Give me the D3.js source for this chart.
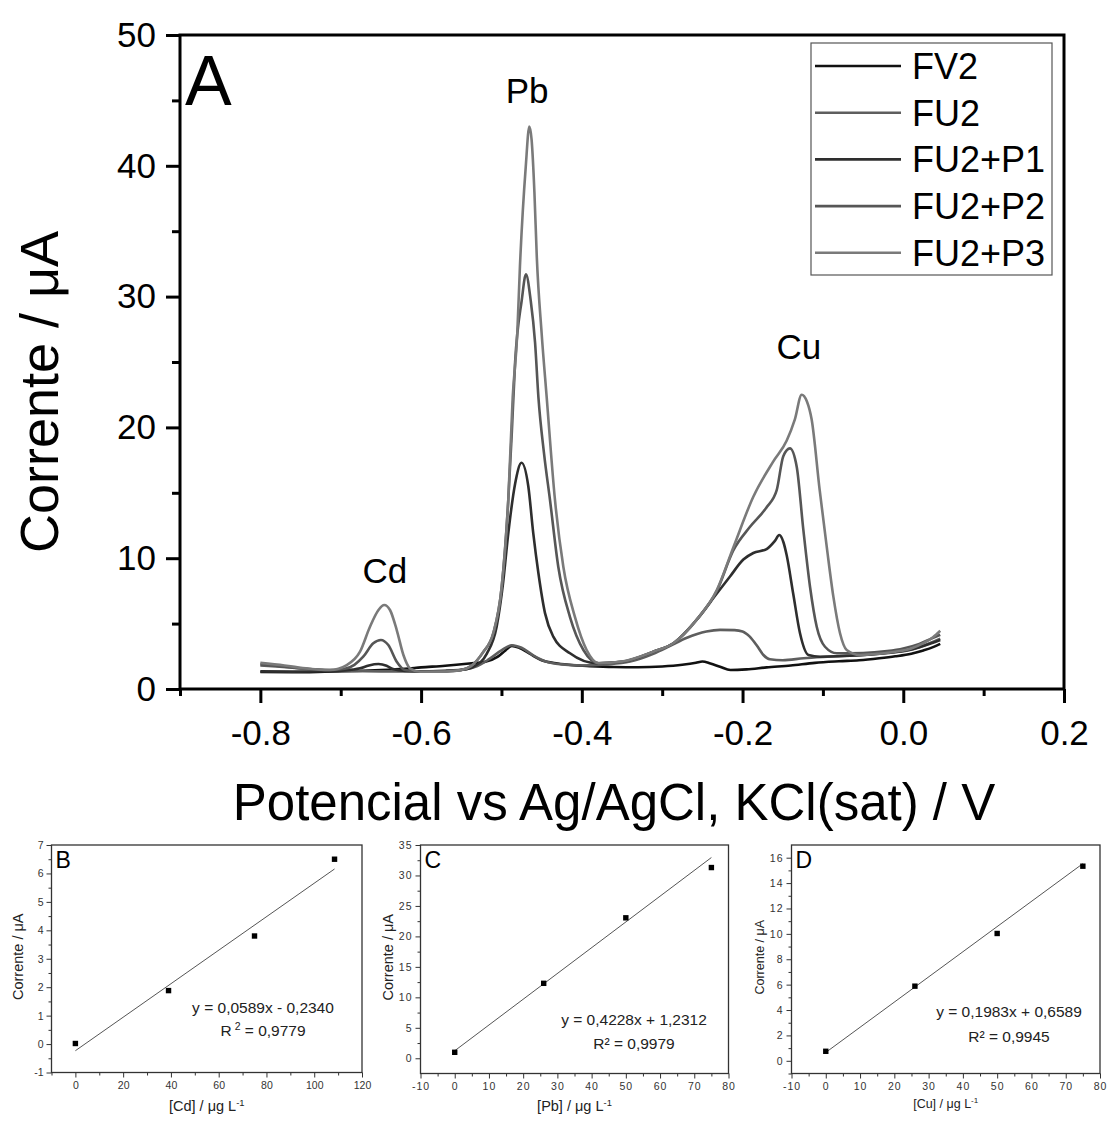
<!DOCTYPE html>
<html>
<head>
<meta charset="utf-8">
<script src="https://cdn.jsdelivr.net/npm/d3@7"></script>
<style>
  body { margin: 0; background: #fff; }
  svg { display: block; }
</style>
</head>
<body>
<svg id="chart" width="1107" height="1124"></svg>
<script>
// ---- data (potential V, current uA) ----
var seriesNames = ["FV2", "FU2", "FU2+P1", "FU2+P2", "FU2+P3"];

var fv2 = [
  [-0.800,1.30],[-0.760,1.28],[-0.720,1.32],[-0.680,1.38],[-0.650,1.45],[-0.620,1.55],
  [-0.600,1.65],[-0.570,1.78],[-0.540,1.95],[-0.520,2.08],[-0.505,2.45],[-0.495,2.95],
  [-0.487,3.30],[-0.478,3.15],[-0.465,2.70],[-0.450,2.20],[-0.430,1.95],[-0.410,1.82],
  [-0.390,1.75],[-0.360,1.68],[-0.330,1.66],[-0.300,1.72],[-0.275,1.85],[-0.258,2.00],
  [-0.250,2.10],[-0.240,1.95],[-0.228,1.70],[-0.215,1.45],[-0.195,1.50],[-0.170,1.65],
  [-0.140,1.80],[-0.110,2.00],[-0.080,2.12],[-0.055,2.20],[-0.030,2.35],[-0.010,2.50],
  [0.010,2.70],[0.025,2.95],[0.037,3.20],[0.046,3.45]
];

var fu2 = [
  [-0.800,1.80],[-0.780,1.72],[-0.750,1.58],[-0.720,1.45],[-0.690,1.38],[-0.650,1.35],
  [-0.610,1.35],[-0.570,1.40],[-0.545,1.50],[-0.530,1.75],[-0.515,2.30],[-0.500,2.95],
  [-0.487,3.35],[-0.475,3.15],[-0.460,2.55],[-0.445,2.10],[-0.425,1.88],[-0.400,1.80],
  [-0.370,1.88],[-0.340,2.10],[-0.311,2.70],[-0.290,3.30],[-0.270,3.90],[-0.245,4.40],
  [-0.228,4.52],[-0.210,4.50],[-0.200,4.40],[-0.191,4.00],[-0.182,3.30],[-0.174,2.60],
  [-0.166,2.27],[-0.150,2.20],[-0.124,2.35],[-0.100,2.45],[-0.070,2.55],[-0.040,2.65],
  [-0.015,2.80],[0.005,2.95],[0.020,3.20],[0.035,3.55],[0.046,3.85]
];

var fu2p1 = [
  [-0.800,1.35],[-0.760,1.33],[-0.720,1.36],[-0.695,1.42],[-0.676,1.58],[-0.665,1.80],
  [-0.653,1.91],[-0.643,1.78],[-0.635,1.52],[-0.620,1.38],[-0.600,1.35],[-0.570,1.38],
  [-0.550,1.45],[-0.535,1.70],[-0.518,2.73],[-0.506,4.76],[-0.498,8.10],[-0.4915,11.90],
  [-0.483,15.70],[-0.475,17.30],[-0.4666,15.50],[-0.4604,11.90],[-0.454,8.85],[-0.4458,5.80],
  [-0.4355,4.00],[-0.4147,2.73],[-0.3815,1.97],[-0.350,2.08],[-0.311,2.85],[-0.286,3.50],
  [-0.257,5.30],[-0.232,7.30],[-0.2156,8.60],[-0.199,9.90],[-0.1866,10.40],[-0.170,10.70],
  [-0.160,11.30],[-0.1543,11.77],[-0.149,11.20],[-0.145,10.20],[-0.137,7.30],[-0.1285,4.26],
  [-0.118,2.60],[-0.1036,2.47],[-0.080,2.50],[-0.050,2.60],[-0.020,2.75],[0.000,2.90],
  [0.020,3.20],[0.035,3.50],[0.046,3.75]
];

var fu2p2 = [
  [-0.800,1.90],[-0.775,1.75],[-0.745,1.55],[-0.715,1.45],[-0.695,1.55],[-0.683,1.85],
  [-0.672,2.47],[-0.6595,3.49],[-0.650,3.75],[-0.6408,3.36],[-0.6303,2.09],[-0.620,1.45],
  [-0.600,1.32],[-0.570,1.35],[-0.550,1.45],[-0.538,1.75],[-0.523,2.80],[-0.510,4.30],
  [-0.4997,7.80],[-0.4915,14.45],[-0.4872,19.50],[-0.483,25.00],[-0.4748,29.70],[-0.4695,31.70],
  [-0.4636,29.70],[-0.4582,26.50],[-0.454,22.30],[-0.447,18.00],[-0.4396,14.45],[-0.4293,9.35],
  [-0.4147,5.50],[-0.398,2.98],[-0.379,1.97],[-0.350,2.08],[-0.311,2.85],[-0.286,3.50],
  [-0.257,5.30],[-0.232,7.50],[-0.2115,10.60],[-0.1907,12.40],[-0.170,13.90],[-0.1575,15.20],
  [-0.1493,17.80],[-0.141,18.40],[-0.1326,17.00],[-0.1244,12.20],[-0.116,7.80],[-0.1077,4.76],
  [-0.0974,3.23],[-0.0828,2.73],[-0.050,2.75],[-0.020,2.90],[0.000,3.10],[0.020,3.45],
  [0.035,3.85],[0.046,4.15]
];

var fu2p3 = [
  [-0.800,2.00],[-0.770,1.80],[-0.740,1.55],[-0.7134,1.45],[-0.6925,1.83],[-0.676,2.85],
  [-0.6636,4.76],[-0.653,6.04],[-0.6458,6.42],[-0.6387,6.04],[-0.6303,4.51],[-0.622,2.60],
  [-0.6138,1.58],[-0.6013,1.32],[-0.570,1.33],[-0.550,1.45],[-0.538,1.75],[-0.523,2.80],
  [-0.510,4.30],[-0.4997,7.80],[-0.4915,14.45],[-0.486,22.30],[-0.4803,27.20],[-0.477,32.30],
  [-0.4698,39.90],[-0.4653,43.00],[-0.4625,42.00],[-0.459,38.00],[-0.456,33.00],[-0.450,27.20],
  [-0.4437,22.30],[-0.4334,14.45],[-0.423,9.35],[-0.4085,5.50],[-0.394,2.98],[-0.379,1.97],
  [-0.350,2.10],[-0.311,2.85],[-0.286,3.50],[-0.257,5.30],[-0.232,7.57],[-0.211,10.90],
  [-0.1866,14.70],[-0.1617,17.40],[-0.145,19.00],[-0.135,20.60],[-0.1264,22.50],[-0.120,22.00],
  [-0.114,20.60],[-0.104,15.20],[-0.0953,10.90],[-0.087,7.06],[-0.0787,4.26],[-0.0704,2.98],
  [-0.054,2.60],[-0.030,2.70],[-0.010,2.85],[0.010,3.10],[0.025,3.50],[0.037,3.95],[0.046,4.45]
];

var seriesData = [fv2, fu2, fu2p1, fu2p2, fu2p3];

// main axis ticks
var xMajor = [-0.8, -0.6, -0.4, -0.2, 0.0, 0.2];
var xMinor = [-0.9, -0.7, -0.5, -0.3, -0.1, 0.1];
var yMajor = [0, 10, 20, 30, 40, 50];
var yMinor = [5, 15, 25, 35, 45];

// peak labels
var peakNames = ["Cd", "Pb", "Cu"];
var peakAt = [[-0.645, 8.1], [-0.468, 44.8], [-0.13, 25.2]];

// calibration data (B, C, D)
var cdConc = [0, 39, 75, 108.5];
var cdCurrent = [0.02, 1.88, 3.8, 6.5];
var pbConc = [0, 26, 50, 75];
var pbCurrent = [0.98, 12.3, 23.05, 31.3];
var cuConc = [0, 26, 50, 75];
var cuCurrent = [0.75, 5.88, 10.03, 15.33];
var fitSlope = [0.0589, 0.4228, 0.1983];
var fitIntercept = [-0.2340, 1.2312, 0.6589];
var fitR2 = ["0,9779", "0,9979", "0,9945"];

// ---- drawing ----
var FONT = '"Liberation Sans", Arial, Helvetica, sans-serif';
var seriesColors = ["#111111", "#5e5e5e", "#2e2e2e", "#565656", "#7a7a7a"];

var svg = d3.select("#chart").attr("font-family", FONT);
svg.append("rect").attr("width", 1107).attr("height", 1124).attr("fill", "#fff");

var main = { left: 180, right: 1064, top: 35, bottom: 689 };

var x = d3.scaleLinear().domain([-0.9, 0.2]).range([main.left, main.right]);
var y = d3.scaleLinear().domain([0, 50]).range([main.bottom, main.top]);

var intFmt = function(d) { return d3.format("d")(d).replace("\u2212", "-"); };

function styleAxis(g, size, width, color) {
  g.select(".domain").remove();
  g.selectAll(".tick line").attr("stroke", color).attr("stroke-width", width);
  g.selectAll(".tick text")
    .attr("font-size", size)
    .attr("font-family", FONT)
    .attr("fill", color);
}

// curves
var line = d3.line()
  .x(function(d) { return x(d[0]); })
  .y(function(d) { return y(d[1]); })
  .curve(d3.curveMonotoneX);

seriesData.forEach(function(s, i) {
  svg.append("path")
    .datum(s)
    .attr("d", line)
    .attr("fill", "none")
    .attr("stroke", seriesColors[i])
    .attr("stroke-width", 2.6)
    .attr("stroke-linejoin", "round");
});

// axes
svg.append("g")
  .attr("transform", "translate(0," + main.bottom + ")")
  .call(d3.axisBottom(x).tickValues(xMajor).tickSize(14).tickPadding(17)
    .tickFormat(function(d) { return d.toFixed(1); }))
  .call(styleAxis, "35px", 3, "#000");
svg.append("g")
  .attr("transform", "translate(0," + main.bottom + ")")
  .call(d3.axisBottom(x).tickValues(xMinor).tickSize(7).tickFormat(""))
  .call(styleAxis, "35px", 3, "#000");
svg.append("g")
  .attr("transform", "translate(" + main.left + ",0)")
  .call(d3.axisLeft(y).tickValues(yMajor).tickSize(14).tickPadding(10)
    .tickFormat(intFmt))
  .call(styleAxis, "35px", 3, "#000");
svg.append("g")
  .attr("transform", "translate(" + main.left + ",0)")
  .call(d3.axisLeft(y).tickValues(yMinor).tickSize(8).tickFormat(""))
  .call(styleAxis, "35px", 3, "#000");

svg.append("rect")
  .attr("x", main.left).attr("y", main.top)
  .attr("width", main.right - main.left).attr("height", main.bottom - main.top)
  .attr("fill", "none").attr("stroke", "#000").attr("stroke-width", 3);

// titles
svg.append("text")
  .attr("x", (main.left + main.right) / 2 - 8).attr("y", 820)
  .attr("text-anchor", "middle").attr("font-size", "51px")
  .text("Potencial vs Ag/AgCl, KCl(sat) / V");
svg.append("text")
  .attr("transform", "translate(58,392) rotate(-90)")
  .attr("text-anchor", "middle").attr("font-size", "54px")
  .text("Corrente / \u03bcA");

svg.append("text")
  .attr("x", main.left + 5).attr("y", 105)
  .attr("font-size", "70px").text("A");

peakNames.forEach(function(p, i) {
  svg.append("text")
    .attr("x", x(peakAt[i][0])).attr("y", y(peakAt[i][1]))
    .attr("text-anchor", "middle").attr("font-size", "35px")
    .text(p);
});

// legend
var legend = svg.append("g").attr("transform", "translate(811,43)");
legend.append("rect")
  .attr("width", 241).attr("height", 232)
  .attr("fill", "#fff").attr("stroke", "#555").attr("stroke-width", 1.2);
seriesNames.forEach(function(name, i) {
  var cy = 23 + i * 46.7;
  legend.append("line")
    .attr("x1", 4).attr("x2", 90).attr("y1", cy).attr("y2", cy)
    .attr("stroke", seriesColors[i]).attr("stroke-width", 2.6);
  legend.append("text")
    .attr("x", 101).attr("y", cy + 13)
    .attr("font-size", "36px").text(name);
});

// ---- calibration panels ----
var panels = [
  { letter: "B", box: { left: 51.5, right: 362, top: 845, bottom: 1072.5 },
    xDomain: [-10, 120], yDomain: [-1, 7],
    xMajor: d3.range(0, 121, 20), xMinor: d3.range(-10, 121, 20),
    yMajor: d3.range(-1, 7.01, 1), yMinor: d3.range(-0.5, 7, 1),
    conc: cdConc, current: cdCurrent, elem: "Cd",
    eq: "y = 0,0589x - 0,2340", eqX: 263, eqY: 1012.5, r2Y: 1036, r2Super: true,
    tickSpacing: 0, titleSize: "14.5px", xTitleY: 1111, yTitleX: 23 },
  { letter: "C", box: { left: 420.5, right: 728.5, top: 845, bottom: 1073.5 },
    xDomain: [-10, 80], yDomain: [-2.5, 35],
    xMajor: d3.range(-10, 81, 10), xMinor: d3.range(-5, 80, 10),
    yMajor: d3.range(0, 36, 5), yMinor: d3.range(2.5, 35, 5),
    conc: pbConc, current: pbCurrent, elem: "Pb",
    eq: "y = 0,4228x + 1,2312", eqX: 634, eqY: 1025, r2Y: 1048.5, r2Super: false,
    tickSpacing: 1, titleSize: "14.5px", xTitleY: 1111, yTitleX: 393 },
  { letter: "D", box: { left: 791.5, right: 1100, top: 845, bottom: 1073.5 },
    xDomain: [-10, 80], yDomain: [-1, 17],
    xMajor: d3.range(-10, 81, 10), xMinor: d3.range(-5, 80, 10),
    yMajor: d3.range(0, 17, 2), yMinor: d3.range(-1, 17, 2),
    conc: cuConc, current: cuCurrent, elem: "Cu",
    eq: "y = 0,1983x + 0,6589", eqX: 1009, eqY: 1017, r2Y: 1041.5, r2Super: false,
    tickSpacing: 1, titleSize: "12.5px", xTitleY: 1108, yTitleX: 764 }
];

panels.forEach(function(p, i) {
  var b = p.box;
  var px = d3.scaleLinear().domain(p.xDomain).range([b.left, b.right]);
  var py = d3.scaleLinear().domain(p.yDomain).range([b.bottom, b.top]);
  var g = svg.append("g");

  function smallAxis(sel) {
    styleAxis(sel, "10.5px", 1, "#333");
    sel.selectAll(".tick text").attr("letter-spacing", p.tickSpacing);
  }

  g.append("g").attr("transform", "translate(0," + b.bottom + ")")
    .call(d3.axisBottom(px).tickValues(p.xMajor).tickSize(5).tickPadding(4)
      .tickFormat(intFmt))
    .call(smallAxis);
  g.append("g").attr("transform", "translate(0," + b.bottom + ")")
    .call(d3.axisBottom(px).tickValues(p.xMinor).tickSize(3).tickFormat(""))
    .call(smallAxis);
  g.append("g").attr("transform", "translate(" + b.left + ",0)")
    .call(d3.axisLeft(py).tickValues(p.yMajor).tickSize(5).tickPadding(3)
      .tickFormat(intFmt))
    .call(smallAxis);
  g.append("g").attr("transform", "translate(" + b.left + ",0)")
    .call(d3.axisLeft(py).tickValues(p.yMinor).tickSize(3).tickFormat(""))
    .call(smallAxis);

  g.append("rect")
    .attr("x", b.left).attr("y", b.top)
    .attr("width", b.right - b.left).attr("height", b.bottom - b.top)
    .attr("fill", "none").attr("stroke", "#333").attr("stroke-width", 1.3);

  // linear fit from the published equation
  var x0 = d3.min(p.conc), x1 = d3.max(p.conc);
  g.append("line")
    .attr("x1", px(x0)).attr("y1", py(fitSlope[i] * x0 + fitIntercept[i]))
    .attr("x2", px(x1)).attr("y2", py(fitSlope[i] * x1 + fitIntercept[i]))
    .attr("stroke", "#555").attr("stroke-width", 1);

  g.selectAll("rect.pt")
    .data(p.conc.map(function(c, k) { return [c, p.current[k]]; }))
    .enter().append("rect")
    .attr("class", "pt")
    .attr("x", function(d) { return px(d[0]) - 2.7; })
    .attr("y", function(d) { return py(d[1]) - 2.7; })
    .attr("width", 5.4).attr("height", 5.4)
    .attr("fill", "#000");

  g.append("text")
    .attr("x", b.left + 4).attr("y", b.top + 22.5)
    .attr("font-size", "23px").text(p.letter);

  g.append("text")
    .attr("x", p.eqX).attr("y", p.eqY)
    .attr("text-anchor", "middle").attr("font-size", "15.5px").attr("fill", "#222")
    .text(p.eq);

  var r2 = g.append("text")
    .attr("x", p.eqX).attr("y", p.r2Y)
    .attr("text-anchor", "middle").attr("font-size", "15.5px").attr("fill", "#222");
  if (p.r2Super) {
    r2.append("tspan").text("R");
    r2.append("tspan").attr("dx", 3).attr("dy", -6).attr("font-size", "10.5px").text("2");
    r2.append("tspan").attr("dy", 6).text(" = " + fitR2[i]);
  } else {
    r2.text("R\u00b2 = " + fitR2[i]);
  }

  var xt = g.append("text")
    .attr("x", (b.left + b.right) / 2).attr("y", p.xTitleY)
    .attr("text-anchor", "middle").attr("font-size", p.titleSize).attr("fill", "#222");
  xt.append("tspan").text("[" + p.elem + "] / \u03bcg L");
  xt.append("tspan").attr("dy", -5).attr("font-size", "0.65em").text("-1");

  g.append("text")
    .attr("transform", "translate(" + p.yTitleX + "," + ((b.top + b.bottom) / 2 - 2) + ") rotate(-90)")
    .attr("text-anchor", "middle").attr("font-size", p.titleSize).attr("fill", "#222")
    .text("Corrente / \u03bcA");
});
</script>
</body>
</html>
